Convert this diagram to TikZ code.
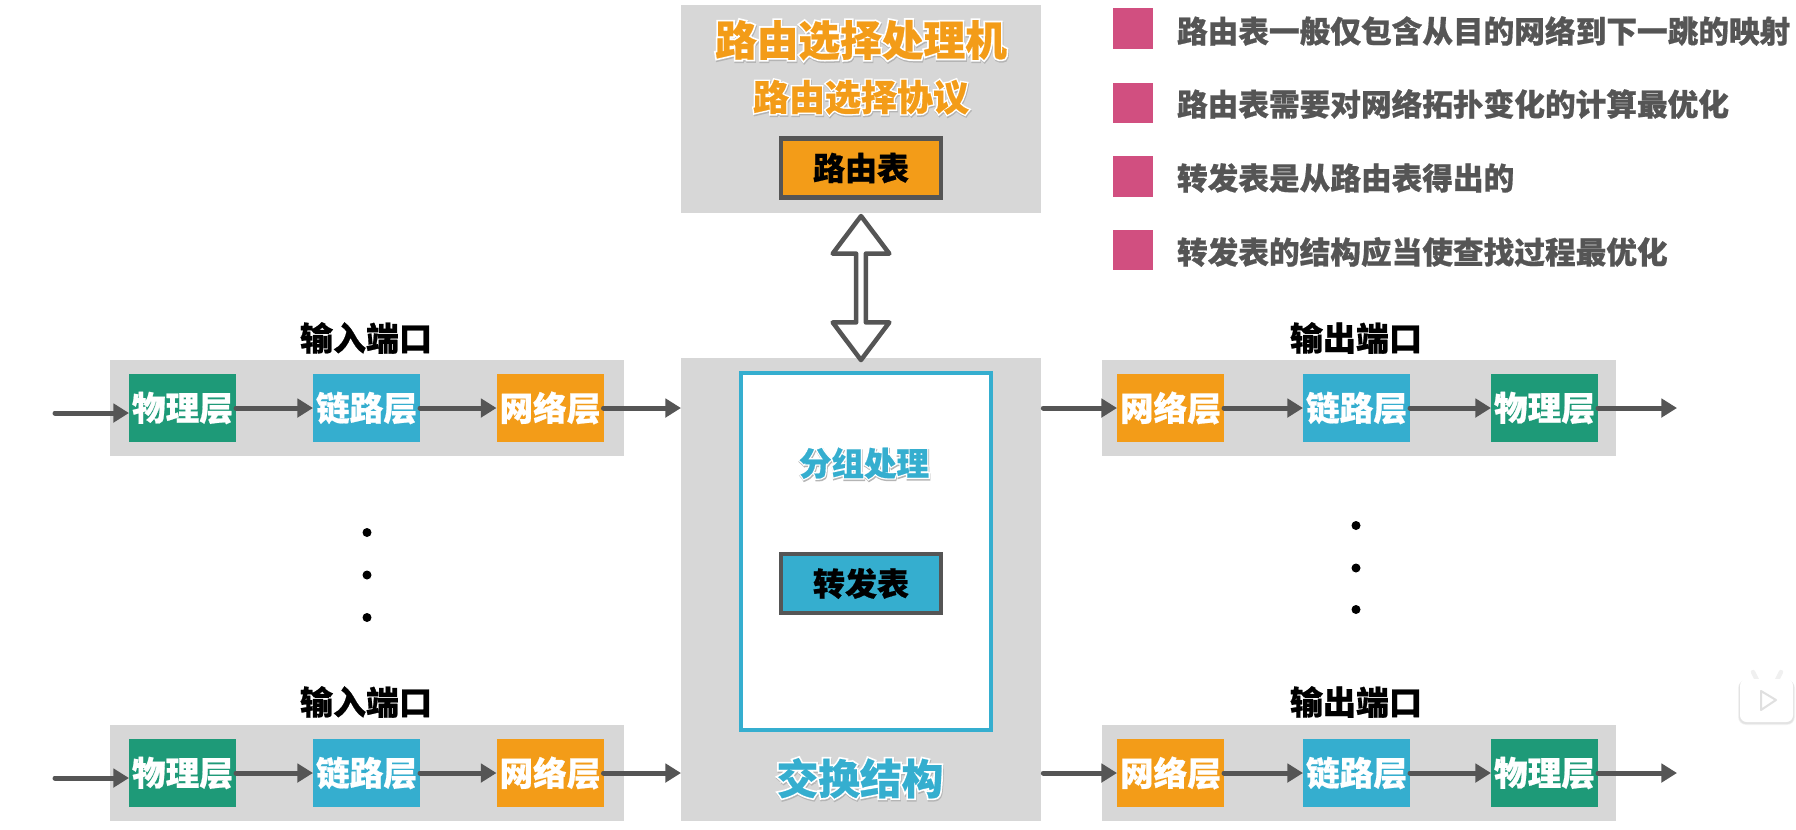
\documentclass[tikz,border=0pt]{standalone}
\usepackage{fontspec}
\setmainfont[BoldFeatures={FakeBold=0.6}]{Noto Sans CJK SC}
\newfontfamily\halofont[BoldFeatures={FakeBold=9}]{Noto Sans CJK SC}
\usetikzlibrary{arrows.meta,shapes.arrows}
\definecolor{routerorange}{HTML}{F39C18}
\definecolor{linkblue}{HTML}{35AECF}
\definecolor{phygreen}{HTML}{1E9A78}
\definecolor{panelgray}{HTML}{D7D7D7}
\definecolor{markpink}{HTML}{D14F80}
\definecolor{inkgray}{HTML}{555555}
\definecolor{halodrop}{HTML}{B4B4B4}
% Outlined heading: soft drop shadow, white contour, coloured face
\newcommand\halotext[3]{\fontsize{#2}{#2}\selectfont\bfseries
  \rlap{\kern0.4pt\raisebox{-0.9pt}{\textcolor{halodrop}{\halofont\bfseries #3}}}%
  \rlap{\textcolor{white}{\halofont\bfseries #3}}%
  \textcolor{#1}{#3}}
\tikzset{
  every node/.style={inner sep=0pt,outer sep=0pt},
  panel/.style={fill=panelgray,rectangle},
  layerbox/.style={rectangle,minimum width=64.2pt,minimum height=40.8pt,text=white,
    font=\fontsize{20.2pt}{20.2pt}\selectfont\bfseries},
  phy/.style={layerbox,fill=phygreen},
  lnk/.style={layerbox,fill=linkblue},
  net/.style={layerbox,fill=routerorange},
  tablebox/.style={rectangle,draw=inkgray,line width=2.7pt,minimum width=96pt,minimum height=35.4pt,
    font=\fontsize{19.2pt}{19.2pt}\selectfont\bfseries,text=black},
  portlabel/.style={font=\fontsize{19.8pt}{19.8pt}\selectfont\bfseries,text=black},
  flow/.style={draw=inkgray,line width=3pt,line cap=round,
    -{Triangle[length=9.4pt,width=11pt]}},
  outflow/.style={flow,shorten <=1.4pt},
  bullet/.style={rectangle,fill=markpink,minimum width=24pt,minimum height=24.4pt},
  note/.style={anchor=west,text=inkgray,font=\fontsize{18.4pt}{18.4pt}\selectfont\bfseries},
  dotmark/.style={circle,fill=black,minimum size=5.4pt},
}
\begin{document}
\begin{tikzpicture}[x=0.6pt,y=-0.6pt]
\useasboundingbox (0,0) rectangle (1796,829);
\fill[white] (0,0) rectangle (1796,829);

% Routing processor
\node[panel,minimum width=216pt,minimum height=124.8pt] (proc) at (861,109) {};
\node (proctitle) at (861,41) {\halotext{routerorange}{25pt}{路由选择处理机}};
\node (protocol) at (861,98) {\halotext{routerorange}{21.6pt}{路由选择协议}};
\node[tablebox,fill=routerorange] (rtable) at (861,168) {\raisebox{-1.2pt}{路由表}};

% Switching fabric
\node[panel,minimum width=216pt,minimum height=277.8pt] (fabric) at (861,589) {};
\node[rectangle,draw=linkblue,fill=white,line width=2.7pt,minimum width=150pt,minimum height=214.2pt] (proczone) at (866,551.5) {};
\node (pkt) at (864,464) {\halotext{linkblue}{19.5pt}{分组处理}};
\node[tablebox,fill=linkblue] (ftable) at (861,583.5) {\raisebox{-1.2pt}{转发表}};
\node (fabrictitle) at (860,779) {\halotext{linkblue}{25pt}{交换结构}};

% Two-way exchange between processor and fabric
\node[double arrow,shape border rotate=90,draw=inkgray,fill=white,line width=2.7pt,
  minimum height=86.4pt,minimum width=34pt,double arrow head extend=6.6pt,
  double arrow tip angle=74,line join=round] (xchg) at (861,288) {};

% Input ports
\node[panel,minimum width=308.4pt,minimum height=57.6pt] (inA) at (367,408) {};
\node[portlabel] (inAlabel) at (366,338) {输入端口};
\node[phy] (phyA) at (182.5,408) {\raisebox{-1pt}{物理层}};
\node[lnk] (lnkA) at (366.5,408) {\raisebox{-1pt}{链路层}};
\node[net] (netA) at (550,408) {\raisebox{-1pt}{网络层}};
\coordinate (srcA) at (55,413);
\draw[flow] (srcA) -- (srcA -| phyA.west);
\draw[flow] (phyA) -- (lnkA);
\draw[flow] (lnkA) -- (netA);
\draw[flow] (netA) -- (netA -| fabric.west);

\node[panel,minimum width=308.4pt,minimum height=57.6pt] (inB) at (367,773) {};
\node[portlabel] (inBlabel) at (366,702) {输入端口};
\node[phy] (phyB) at (182.5,773) {\raisebox{-1pt}{物理层}};
\node[lnk] (lnkB) at (366.5,773) {\raisebox{-1pt}{链路层}};
\node[net] (netB) at (550,773) {\raisebox{-1pt}{网络层}};
\coordinate (srcB) at (55,778);
\draw[flow] (srcB) -- (srcB -| phyB.west);
\draw[flow] (phyB) -- (lnkB);
\draw[flow] (lnkB) -- (netB);
\draw[flow] (netB) -- (netB -| fabric.west);

\node[dotmark] (ldot1) at (367,532.5) {};
\node[dotmark] (ldot2) at (367,575) {};
\node[dotmark] (ldot3) at (367,617.5) {};

% Output ports
\node[panel,minimum width=308.4pt,minimum height=57.6pt] (outA) at (1359,408) {};
\node[portlabel] (outAlabel) at (1356,338) {输出端口};
\node[net] (onetA) at (1170.5,408) {\raisebox{-1pt}{网络层}};
\node[lnk] (olnkA) at (1356.5,408) {\raisebox{-1pt}{链路层}};
\node[phy] (ophyA) at (1544.5,408) {\raisebox{-1pt}{物理层}};
\coordinate (dstA) at (1677,408);
\draw[outflow] (onetA -| fabric.east) -- (onetA);
\draw[flow] (onetA) -- (olnkA);
\draw[flow] (olnkA) -- (ophyA);
\draw[flow] (ophyA) -- (dstA);

\node[panel,minimum width=308.4pt,minimum height=57.6pt] (outB) at (1359,773) {};
\node[portlabel] (outBlabel) at (1356,702) {输出端口};
\node[net] (onetB) at (1170.5,773) {\raisebox{-1pt}{网络层}};
\node[lnk] (olnkB) at (1356.5,773) {\raisebox{-1pt}{链路层}};
\node[phy] (ophyB) at (1544.5,773) {\raisebox{-1pt}{物理层}};
\coordinate (dstB) at (1677,773);
\draw[outflow] (onetB -| fabric.east) -- (onetB);
\draw[flow] (onetB) -- (olnkB);
\draw[flow] (olnkB) -- (ophyB);
\draw[flow] (ophyB) -- (dstB);

\node[dotmark] (rdot1) at (1356,525.5) {};
\node[dotmark] (rdot2) at (1356,568) {};
\node[dotmark] (rdot3) at (1356,609.5) {};

% Side notes
\node[bullet] (b1) at (1133,28.5) {};
\node[bullet] (b2) at (1133,103) {};
\node[bullet] (b3) at (1133,176.5) {};
\node[bullet] (b4) at (1133,250) {};
\node[note] (n1) at (1177,31) {路由表一般仅包含从目的网络到下一跳的映射};
\node[note] (n2) at (1177,104) {路由表需要对网络拓扑变化的计算最优化};
\node[note] (n3) at (1177,178) {转发表是从路由表得出的};
\node[note] (n4) at (1177,252) {转发表的结构应当使查找过程最优化};

% Small TV badge in the corner
\fill[black,opacity=0.05,rounded corners=5pt] (1738,680) rectangle (1795,725);
\fill[black,opacity=0.06,rounded corners=4pt] (1739,680) rectangle (1794,724);
\draw[black!6,line width=2.6pt,line cap=round] (1757,680) -- (1753,672) (1777,680) -- (1781,672);
\fill[white,rounded corners=4pt] (1740,679) rectangle (1793,722);
\draw[black!12,line width=1.2pt,line join=round,fill=white] (1761,691) -- (1776,700) -- (1761,710) -- cycle;
\end{tikzpicture}
\end{document}
